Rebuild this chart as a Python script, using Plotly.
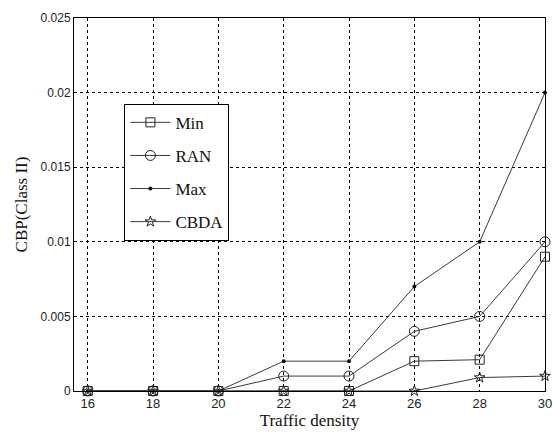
import plotly.graph_objects as go

density = [16, 18, 20, 22, 24, 26, 28, 30]
cbp_min = [0, 0, 0, 0, 0, 0.002, 0.0021, 0.009]
cbp_ran = [0, 0, 0, 0.001, 0.001, 0.004, 0.005, 0.010]
cbp_max = [0, 0, 0, 0.002, 0.002, 0.007, 0.010, 0.020]
cbp_cbda = [0, 0, 0, 0, 0, 0, 0.0009, 0.001]

x_ticks = [16, 18, 20, 22, 24, 26, 28, 30]
y_ticks = [0, 0.005, 0.01, 0.015, 0.02, 0.025]
y_tick_text = ["0", "0.005", "0.01", "0.015", "0.02", "0.025"]

line_col = "#3a3a3a"
series = [
    ("Min", cbp_min, dict(symbol="square-open", size=9, color="#222", line=dict(width=1))),
    ("RAN", cbp_ran, dict(symbol="circle-open", size=10, color="#222", line=dict(width=1))),
    ("Max", cbp_max, dict(symbol="circle", size=4, color="#111")),
    ("CBDA", cbp_cbda, dict(symbol="star-open", size=8, color="#222", line=dict(width=1))),
]

fig = go.Figure()
for i, (name, vals, mk) in enumerate(series):
    fig.add_trace(go.Scatter(
        x=density, y=vals, name=name, mode="lines+markers",
        line=dict(color=line_col, width=1), marker=mk,
        legendgroup=f"g{i}", cliponaxis=False,
    ))

grid = dict(showgrid=True, gridcolor="black", gridwidth=1, griddash="3px,3px")
fig.update_layout(
    width=553, height=432,
    margin=dict(l=74, r=1, t=18, b=41),
    paper_bgcolor="white", plot_bgcolor="white",
    font=dict(family="Liberation Sans, Arial, sans-serif", size=12, color="#222"),
    xaxis=dict(range=[15.58, 30], tickvals=x_ticks, zeroline=False,
               showline=True, linecolor="black", linewidth=1, mirror=True,
               ticks="", tickfont=dict(size=13), ticklabeloverflow="allow",
               title=dict(text="Traffic density", standoff=4,
                          font=dict(family="Liberation Serif, Times New Roman, serif", size=17, color="#111")),
               **grid),
    yaxis=dict(range=[0, 0.025], tickvals=y_ticks, ticktext=y_tick_text, zeroline=False,
               showline=True, linecolor="black", linewidth=1, mirror=True,
               ticks="", tickfont=dict(size=12),
               title=dict(text="CBP(Class II)", standoff=8,
                          font=dict(family="Liberation Serif, Times New Roman, serif", size=17, color="#111")),
               **grid),
    legend=dict(x=0.107, y=0.77, xanchor="left", yanchor="top",
                bgcolor="white", bordercolor="black", borderwidth=1,
                font=dict(family="Liberation Serif, Times New Roman, serif", size=17, color="#111"),
                tracegroupgap=8, itemwidth=40),
    showlegend=True,
)

fig.write_html(
    "out.html",
    config={"displayModeBar": False},
    post_script="document.body.style.margin='0';document.body.style.overflow='hidden';",
)
